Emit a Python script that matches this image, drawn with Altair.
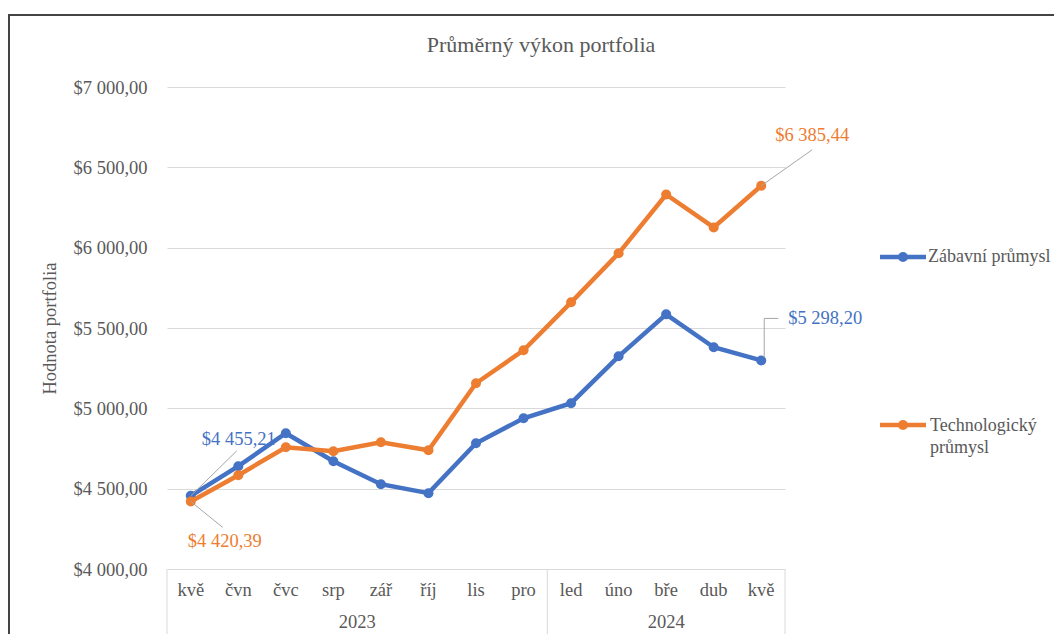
import altair as alt
import pandas as pd

# ---------------- data ----------------
chart_title = "Průměrný výkon portfolia"
months = ["kvě", "čvn", "čvc", "srp", "zář", "říj", "lis", "pro", "led", "úno", "bře", "dub", "kvě"]
year_labels = ["2023", "2024"]
year_first_idx = [0, 8]
year_last_idx = [7, 12]
series_names = ["Zábavní průmysl", "Technologický průmysl"]
zabavni = [4455.21, 4640, 4845, 4671, 4528, 4472, 4783, 4938, 5032, 5324, 5585, 5380, 5298.20]
technologicky = [4420.39, 4584, 4758, 4733, 4789, 4739, 5156, 5361, 5660, 5965, 6331, 6126, 6385.44]
y_ticks = [4000, 4500, 5000, 5500, 6000, 6500, 7000]

colors = ["#4472C4", "#ED7D31"]
FONT = "Liberation Serif"
GRAY = "#595959"
FS = 18.5

W, H = 618, 482


def fmt(v):
    return "$" + f"{v:,.2f}".replace(",", " ").replace(".", ",")


rows = []
for name, vals in zip(series_names, [zabavni, technologicky]):
    for i, v in enumerate(vals):
        rows.append({"idx": i, "month": months[i], "series": name, "value": v, "label": fmt(v)})
df = pd.DataFrame(rows)

month_df = pd.DataFrame({"idx": list(range(len(months))), "month": months})
year_df = pd.DataFrame({
    "year": year_labels,
    "mid": [(a + b) / 2 for a, b in zip(year_first_idx, year_last_idx)],
})
bounds = sorted(set([year_first_idx[0] - 0.5] + [b + 0.5 for b in year_last_idx]))
sep_df = pd.DataFrame({"b": bounds})

xscale = alt.Scale(domain=[-0.5, len(months) - 0.5], nice=False, zero=False)
yscale = alt.Scale(domain=[y_ticks[0], y_ticks[-1]], nice=False, zero=False)

X = alt.X("idx:Q", scale=xscale, axis=None)
Y = alt.Y(
    "value:Q",
    scale=yscale,
    axis=alt.Axis(
        values=y_ticks,
        labelExpr="replace(replace('$' + format(datum.value, ',.2f'), ',', ' '), '.', ',')",
        title="Hodnota portfolia",
        domain=False,
        ticks=False,
        tickSize=0,
        labelPadding=20,
        labelFont=FONT,
        labelFontSize=FS,
        labelColor=GRAY,
        titleFont=FONT,
        titleFontSize=FS,
        titleFontWeight="normal",
        titleColor=GRAY,
        titlePadding=14,
        grid=True,
        gridColor="#D9D9D9",
        gridWidth=1,
    ),
)

base = alt.Chart(df)
one = alt.Chart(month_df.head(1))

layers = []

# frame of the chart
layers.append(
    one.mark_rect(fill="transparent", stroke="#444444", strokeWidth=2).encode(
        x=alt.value(-158), x2=alt.value(1100), y=alt.value(-72), y2=alt.value(700)
    )
)

# chart title
layers.append(
    one.mark_text(text=chart_title, font=FONT, fontSize=22, color=GRAY, align="center", baseline="middle").encode(
        x=alt.value(374), y=alt.value(-42)
    )
)

# category box separators
layers.append(
    alt.Chart(sep_df).mark_rule(color="#D9D9D9", strokeWidth=1).encode(
        x=alt.X("b:Q", scale=xscale, axis=None), y=alt.value(H), y2=alt.value(H + 80)
    )
)

# series lines + markers
for name, col in zip(series_names, colors):
    s = base.transform_filter(alt.datum.series == name)
    layers.append(s.mark_line(strokeWidth=4.5, color=col).encode(x=X, y=Y))
    layers.append(s.mark_point(filled=True, size=100, opacity=1, color=col).encode(x=X, y=Y))

# month labels and year labels
layers.append(
    alt.Chart(month_df).mark_text(font=FONT, fontSize=FS, color=GRAY, baseline="middle").encode(
        x=alt.X("idx:Q", scale=xscale, axis=None), y=alt.value(H + 21), text="month:N"
    )
)
layers.append(
    alt.Chart(year_df).mark_text(font=FONT, fontSize=FS, color=GRAY, baseline="middle").encode(
        x=alt.X("mid:Q", scale=xscale, axis=None), y=alt.value(H + 53), text="year:N"
    )
)

LEADER = "#A6A6A6"


def point_sel(name, i):
    return base.transform_filter((alt.datum.series == name) & (alt.datum.idx == i))


X2 = alt.X2("idx")
Y2 = alt.Y2("value")
last = len(months) - 1

# data labels with leader lines
# Zábavní first
p = point_sel(series_names[0], 0)
layers.append(p.mark_rule(color=LEADER, strokeWidth=1, x2Offset=46, y2Offset=-45).encode(x=X, y=Y, x2=X2, y2=Y2))
layers.append(p.mark_text(font=FONT, fontSize=FS, color=colors[0], align="left", baseline="middle", dx=11, dy=-57).encode(x=X, y=Y, text="label:N"))
# Technologický first
p = point_sel(series_names[1], 0)
layers.append(p.mark_rule(color=LEADER, strokeWidth=1, x2Offset=32, y2Offset=26).encode(x=X, y=Y, x2=X2, y2=Y2))
layers.append(p.mark_text(font=FONT, fontSize=FS, color=colors[1], align="left", baseline="middle", dx=-3, dy=40).encode(x=X, y=Y, text="label:N"))
# Technologický last
p = point_sel(series_names[1], last)
layers.append(p.mark_rule(color=LEADER, strokeWidth=1, x2Offset=51, y2Offset=-36).encode(x=X, y=Y, x2=X2, y2=Y2))
layers.append(p.mark_text(font=FONT, fontSize=FS, color=colors[1], align="left", baseline="middle", dx=14, dy=-51).encode(x=X, y=Y, text="label:N"))
# Zábavní last
p = point_sel(series_names[0], last)
layers.append(p.mark_rule(color=LEADER, strokeWidth=1, xOffset=3, x2Offset=3, yOffset=-3, y2Offset=-42).encode(x=X, y=Y, x2=X2, y2=Y2))
layers.append(p.mark_rule(color=LEADER, strokeWidth=1, xOffset=3, x2Offset=17, yOffset=-42, y2Offset=-42).encode(x=X, y=Y, x2=X2, y2=Y2))
layers.append(p.mark_text(font=FONT, fontSize=FS, color=colors[0], align="left", baseline="middle", dx=27, dy=-42).encode(x=X, y=Y, text="label:N"))

# legend (manual)
leg_y = [170, 338]
LFS = 18
for ly, name, col in zip(leg_y, series_names, colors):
    layers.append(one.mark_rule(color=col, strokeWidth=4.5).encode(x=alt.value(713), x2=alt.value(759), y=alt.value(ly)))
    layers.append(one.mark_point(filled=True, size=100, opacity=1, color=col).encode(x=alt.value(736), y=alt.value(ly)))
    if name == series_names[0]:
        layers.append(one.mark_text(text=name, font=FONT, fontSize=LFS, color=GRAY, align="left", baseline="middle").encode(x=alt.value(761), y=alt.value(ly)))
    else:
        layers.append(one.mark_text(text=name.split(" "), font=FONT, fontSize=LFS, color=GRAY, align="left", baseline="alphabetic", lineHeight=22).encode(x=alt.value(763), y=alt.value(ly + 6)))

chart = alt.layer(*layers).properties(
    width=W,
    height=H,
    autosize=alt.AutoSizeParams(type="none"),
    padding={"left": 159, "top": 79, "right": 1062 - 16 - 159 - W, "bottom": 642 - 16 - 79 - H},
).configure_view(stroke=None)

chart.save("out.html", embed_options={"renderer": "svg", "actions": False})
